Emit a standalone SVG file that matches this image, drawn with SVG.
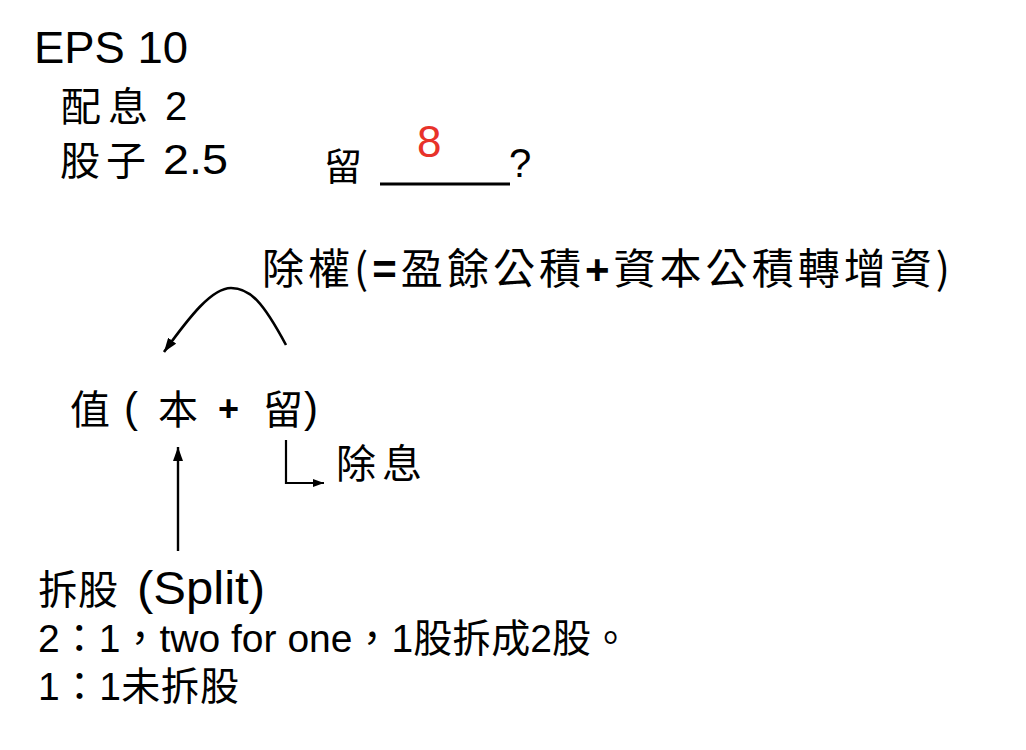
<svg xmlns="http://www.w3.org/2000/svg" width="1026" height="750" viewBox="0 0 1026 750">
<style>
text{fill:#000;}
.lat{font-family:"Liberation Sans",Arial,"Noto Sans CJK TC",sans-serif;}
.cjk{font-family:"Noto Sans CJK TC","Liberation Sans",sans-serif;}
.op{font-family:"Liberation Sans",Arial,sans-serif;font-weight:700;}
.red{fill:#e8322a;}
.conn{fill:none;stroke:#000;stroke-linecap:butt;stroke-linejoin:miter;}
</style>
<defs>
<marker id="ah" viewBox="0 0 14 10" refX="14" refY="5" markerWidth="14" markerHeight="10" markerUnits="userSpaceOnUse" orient="auto">
<path d="M0,0 L14,5 L0,10 z" fill="#000"/>
</marker>
<marker id="ahs" viewBox="0 0 11 8" refX="11" refY="4" markerWidth="11" markerHeight="8" markerUnits="userSpaceOnUse" orient="auto">
<path d="M0,0 L11,4 L0,8 z" fill="#000"/>
</marker>
</defs>
<rect width="1026" height="750" fill="#fff"/>

<g id="eps">
<text class="lat" x="34" y="63" font-size="44" textLength="154" lengthAdjust="spacingAndGlyphs">EPS 10</text>
</g>
<g id="dividend">
<text class="cjk" x="61" y="121" font-size="40">配</text>
<text class="cjk" x="108" y="121" font-size="40">息</text>
<text class="lat" x="165" y="120" font-size="40">2</text>
</g>
<g id="stock-dividend">
<text class="cjk" x="60" y="175" font-size="40">股</text>
<text class="cjk" x="106" y="175" font-size="40">子</text>
<text class="lat" x="163" y="174" font-size="42" textLength="65" lengthAdjust="spacingAndGlyphs">2.5</text>
</g>
<g id="retain">
<text class="cjk" x="324" y="180" font-size="38">留</text>
<line x1="380" y1="184" x2="510" y2="184" stroke="#000" stroke-width="3"/>
<text class="lat red" x="417" y="157" font-size="44">8</text>
<text class="lat" x="509" y="177" font-size="40">?</text>
</g>
<g id="ex-rights">
<text class="cjk" x="262" y="284" font-size="42" textLength="688" lengthAdjust="spacing">除權(<tspan class="op">=</tspan>盈餘公積<tspan class="op">+</tspan>資本公積轉增資)</text>
</g>
<g id="value">
<text class="cjk" x="70" y="424" font-size="40">值</text>
<text class="lat" x="124" y="422" font-size="42">(</text>
<text class="cjk" x="158" y="424" font-size="40">本</text>
<text class="op" x="218" y="421" font-size="36">+</text>
<text class="cjk" x="263" y="424" font-size="40">留</text>
<text class="lat" x="304" y="422" font-size="42">)</text>
</g>
<g id="ex-dividend">
<text class="cjk" x="336" y="478" font-size="40">除</text>
<text class="cjk" x="382" y="478" font-size="40">息</text>
</g>
<g id="split">
<text class="cjk" x="38" y="604" font-size="40">拆</text>
<text class="cjk" x="78" y="604" font-size="40">股</text>
<text class="lat" x="137" y="604" font-size="46" textLength="128" lengthAdjust="spacingAndGlyphs">(Split)</text>
<text class="lat" x="38" y="652" font-size="39" textLength="592" lengthAdjust="spacing">2：1，two for one，1股拆成2股。</text>
<text class="lat" x="38" y="700" font-size="39" textLength="201" lengthAdjust="spacing">1：1未拆股</text>
</g>

<g id="connectors">
<path class="conn" stroke-width="2.6" d="M286,345 C263,302 250,288 231,288 C212,288 190,316 164,352" marker-end="url(#ah)"/>
<line class="conn" stroke-width="2.4" x1="178" y1="551" x2="178" y2="447" marker-end="url(#ah)"/>
<polyline class="conn" stroke-width="2.2" points="286,440 286,483 324,483" marker-end="url(#ahs)"/>
</g>
</svg>
